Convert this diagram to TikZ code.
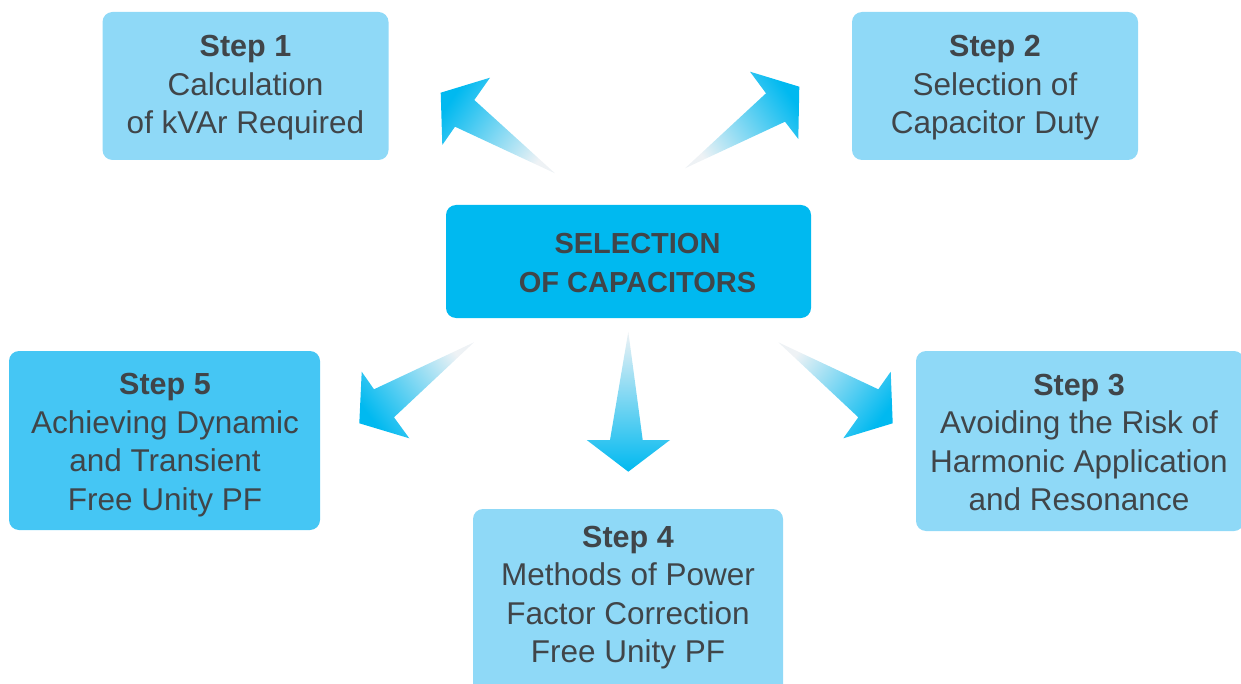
\documentclass[tikz,border=0pt]{standalone}
\usepackage{fontspec}
\setmainfont{Liberation Sans}
\definecolor{boxlight}{HTML}{8FD9F7}
\definecolor{boxmid}{HTML}{45C6F4}
\definecolor{boxdark}{HTML}{00B9F0}
\definecolor{txt}{HTML}{404549}
\definecolor{headc}{HTML}{00B9F0}
\definecolor{midc}{HTML}{4CC4F0}
\definecolor{tailc}{HTML}{EEF2F5}
\newcommand{\stp}[1]{{\fontsize{30.5}{38.5}\selectfont\textbf{#1}}}
\tikzset{
  stepbox/.style={rounded corners=10pt, fill=boxlight, draw=none, text=txt, align=center,
    font=\fontsize{31.5}{38.5}\selectfont, inner sep=0pt},
  arrowshape/.style={top color=headc, middle color=midc, bottom color=tailc, draw=none},
}
\begin{document}
\begin{tikzpicture}[x=1pt,y=-1pt]
\useasboundingbox (0,0) rectangle (1241,684);
% boxes
\node[stepbox, minimum width=286, minimum height=148] (s1) at (245.5,86) {};
\node[text=txt, align=center, font=\fontsize{31.5}{38.5}\selectfont, inner sep=0pt] (s1t) at (245.5,88) {\stp{Step 1}\\Calculation\\of kVAr Required};
\node[stepbox, minimum width=286, minimum height=148] (s2) at (995,86) {};
\node[text=txt, align=center, font=\fontsize{31.5}{38.5}\selectfont, inner sep=0pt] (s2t) at (995,88) {\stp{Step 2}\\Selection of\\Capacitor Duty};
\node[stepbox, fill=boxdark, minimum width=365, minimum height=113] (c) at (628.5,261.5) {};
\node[text=txt, align=center, font=\fontsize{29}{38.5}\selectfont\bfseries, inner sep=0pt] (ct) at (637.5,263) {SELECTION\\OF CAPACITORS};
\node[stepbox, fill=boxmid, minimum width=311, minimum height=179] (s5) at (164.5,440.5) {};
\node[text=txt, align=center, font=\fontsize{31.5}{38.5}\selectfont, inner sep=0pt] (s5t) at (165,445) {\stp{Step 5}\\Achieving Dynamic\\and Transient\\Free Unity PF};
\node[stepbox, minimum width=328, minimum height=180] (s3) at (1080,441) {};
\node[text=txt, align=center, font=\fontsize{31.5}{38.5}\selectfont, inner sep=0pt] (s3t) at (1079,442.5) {\stp{Step 3}\\Avoiding the Risk of\\Harmonic Application\\and Resonance};
\node[stepbox, minimum width=310, minimum height=195] (s4) at (628,606.5) {};
\node[text=txt, align=center, font=\fontsize{31.5}{38.5}\selectfont, inner sep=0pt] (s4t) at (628,597.5) {\stp{Step 4}\\Methods of Power\\Factor Correction\\Free Unity PF};
% arrows
\shade[arrowshape, shading angle=55] (440.7,92.7) -- (490,77.7) -- (474.3,100) -- (555,173.3) -- (455,126.7) -- (442.3,145) -- cycle;
\shade[arrowshape, shading angle=-56] (799.3,86.7) -- (750,71.7) -- (766,93.3) -- (685,168.3) -- (785,121.7) -- (798.3,139) -- cycle;
\shade[arrowshape, shading angle=127] (474,342.3) -- (374,389.3) -- (361.7,371.7) -- (359.3,423.3) -- (409.3,438.3) -- (394,417.3) -- cycle;
\shade[arrowshape, shading angle=180] (628.3,331.7) -- (642.7,440) -- (670,440) -- (628.3,471.7) -- (586.7,440) -- (610,440) -- cycle;
\shade[arrowshape, shading angle=-127] (778.3,342.3) -- (878.3,389.3) -- (890.7,371.7) -- (892.7,423.3) -- (843.3,438.3) -- (858.3,417.3) -- cycle;
\end{tikzpicture}
\end{document}
